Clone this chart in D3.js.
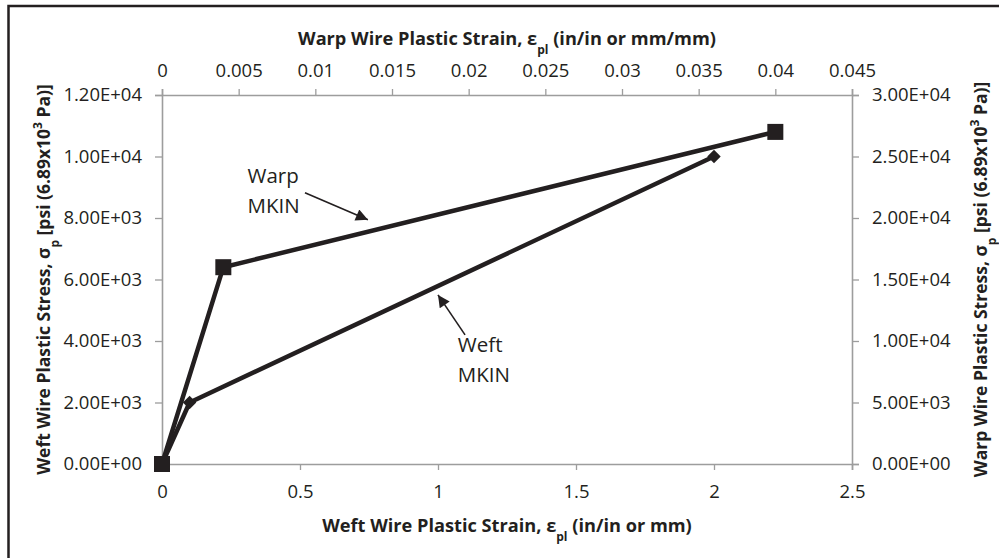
<!DOCTYPE html>
<html>
<head>
<meta charset="utf-8">
<script src="https://cdn.jsdelivr.net/npm/d3@7"></script>
<style>
  body { margin: 0; background: #fff; }
  svg text { font-family: "Open Sans", sans-serif; fill: #231f20; }
</style>
</head>
<body>
<svg id="chart" width="999" height="558"></svg>
<script>
// weft series (bottom x / left y)
const weftStrain = [0, 0.1, 2.0];
const weftStress = [0, 2000, 10000];
// warp series (top x / right y)
const warpStrain = [0, 0.004, 0.04];
const warpStress = [0, 16000, 27000];

// tick labels
const bottomTicks = [0, 0.5, 1, 1.5, 2, 2.5];
const topTicks = [0, 0.005, 0.01, 0.015, 0.02, 0.025, 0.03, 0.035, 0.04, 0.045];
const leftTicks = [0, 2000, 4000, 6000, 8000, 10000, 12000];
const rightTicks = [0, 5000, 10000, 15000, 20000, 25000, 30000];

// annotations, placed in weft-axis data units
const annoLabels = [["Warp", "MKIN"], ["Weft", "MKIN"]];
const annoText = [[0.31, 9130], [1.072, 3640]];
const annoTail = [[0.518, 8820], [1.098, 4200]];
const annoTip = [[0.746, 7940], [1.0, 5500]];

const svg = d3.select('#chart');
const margin = { top: 95, right: 147, bottom: 94, left: 162 };
const width = 999 - margin.left - margin.right;   // 690
const height = 558 - margin.top - margin.bottom;  // 369
const ink = '#231f20';
const axisGrey = '#9d9d9d';

// outer frame (runs off the right/bottom edge like the original)
svg.append('rect')
    .attr('x', 8.5).attr('y', 6)
    .attr('width', 1000).attr('height', 570)
    .attr('fill', 'none')
    .attr('stroke', ink)
    .attr('stroke-width', 2.5);

const xBottom = d3.scaleLinear().domain([0, 2.5]).range([0, width]);
const xTop = d3.scaleLinear().domain([0, 0.045]).range([0, width]);
const yLeft = d3.scaleLinear().domain([0, 12000]).range([height, 0]);
const yRight = d3.scaleLinear().domain([0, 30000]).range([height, 0]);

function sci(v) {
    if (v === 0) return '0.00E+00';
    const e = Math.floor(Math.log10(Math.abs(v)));
    const m = v / Math.pow(10, e);
    return m.toFixed(2) + 'E' + (e < 0 ? '-' : '+') + String(Math.abs(e)).padStart(2, '0');
}

const g = svg.append('g')
    .attr('transform', `translate(${margin.left},${margin.top})`);

function styleAxis(sel) {
    sel.select('.domain').attr('stroke', axisGrey).attr('stroke-width', 1.6);
    sel.selectAll('.tick line').attr('stroke', axisGrey).attr('stroke-width', 1.3);
    sel.selectAll('.tick text').attr('fill', ink).style('font-size', '18.5px');
}

// bottom axis
g.append('g')
    .attr('transform', `translate(0,${height})`)
    .call(d3.axisBottom(xBottom).tickValues(bottomTicks).tickFormat(d3.format('')).tickSizeOuter(0).tickSize(6).tickPadding(15))
    .call(styleAxis);

// top axis
g.append('g')
    .call(d3.axisTop(xTop).tickValues(topTicks).tickFormat(d3.format('')).tickSizeOuter(0).tickSize(6).tickPadding(12))
    .call(styleAxis);

// left axis
g.append('g')
    .call(d3.axisLeft(yLeft).tickValues(leftTicks).tickFormat(sci).tickSizeOuter(0).tickSize(7).tickPadding(13))
    .call(styleAxis);

// right axis
g.append('g')
    .attr('transform', `translate(${width},0)`)
    .call(d3.axisRight(yRight).tickValues(rightTicks).tickFormat(sci).tickSizeOuter(0).tickSize(7).tickPadding(13))
    .call(styleAxis);

// series lines
const weftData = weftStrain.map((x, i) => [x, weftStress[i]]);
const warpData = warpStrain.map((x, i) => [x, warpStress[i]]);

const weftLine = d3.line().x(d => xBottom(d[0])).y(d => yLeft(d[1]));
const warpLine = d3.line().x(d => xTop(d[0])).y(d => yRight(d[1]));

g.append('path')
    .datum(weftData)
    .attr('d', weftLine)
    .attr('fill', 'none')
    .attr('stroke', ink)
    .attr('stroke-width', 4.5)
    .attr('stroke-linejoin', 'round');

g.selectAll('.weft-pt')
    .data(weftData)
    .enter()
    .append('path')
    .attr('class', 'weft-pt')
    .attr('d', d3.symbol().type(d3.symbolDiamond2).size(115))
    .attr('transform', d => `translate(${xBottom(d[0])},${yLeft(d[1])})`)
    .attr('fill', ink);

g.append('path')
    .datum(warpData)
    .attr('d', warpLine)
    .attr('fill', 'none')
    .attr('stroke', ink)
    .attr('stroke-width', 4.5)
    .attr('stroke-linejoin', 'round');

g.selectAll('.warp-pt')
    .data(warpData)
    .enter()
    .append('rect')
    .attr('class', 'warp-pt')
    .attr('x', d => xTop(d[0]) - 8)
    .attr('y', d => yRight(d[1]) - 8)
    .attr('width', 16)
    .attr('height', 16)
    .attr('fill', ink);

// annotations
svg.append('defs').append('marker')
    .attr('id', 'arrow')
    .attr('viewBox', '0 0 10 10')
    .attr('refX', 10).attr('refY', 5)
    .attr('markerUnits', 'userSpaceOnUse')
    .attr('markerWidth', 17).attr('markerHeight', 12)
    .attr('orient', 'auto')
    .append('path')
    .attr('d', 'M0,0 L10,5 L0,10 Z')
    .attr('fill', ink);

annoLabels.forEach((lines, i) => {
    g.append('line')
        .attr('x1', xBottom(annoTail[i][0])).attr('y1', yLeft(annoTail[i][1]))
        .attr('x2', xBottom(annoTip[i][0])).attr('y2', yLeft(annoTip[i][1]))
        .attr('stroke', ink)
        .attr('stroke-width', 1.6)
        .attr('marker-end', 'url(#arrow)');

    const t = g.append('text')
        .attr('x', xBottom(annoText[i][0]))
        .attr('y', yLeft(annoText[i][1]))
        .style('font-size', '20.5px');
    lines.forEach((s, j) => {
        t.append('tspan')
            .attr('x', xBottom(annoText[i][0]))
            .attr('dy', j === 0 ? 0 : 30)
            .text(s);
    });
});

// axis titles
function subTitle(sel, parts) {
    parts.forEach(p => {
        const ts = sel.append('tspan').text(p.t);
        if (p.sub) ts.attr('baseline-shift', 'sub').style('font-size', '12px');
        if (p.sup) ts.attr('baseline-shift', 'super').style('font-size', '12px');
    });
}

const titleFont = '18.2px';
const vTitleFont = '17.5px';

svg.append('text')
    .attr('x', margin.left + width / 2)
    .attr('y', 45)
    .attr('text-anchor', 'middle')
    .style('font-weight', 'bold')
    .style('font-size', titleFont)
    .call(subTitle, [{ t: 'Warp Wire Plastic Strain, ε' }, { t: 'pl', sub: true }, { t: ' (in/in or mm/mm)' }]);

svg.append('text')
    .attr('x', margin.left + width / 2)
    .attr('y', 532)
    .attr('text-anchor', 'middle')
    .style('font-weight', 'bold')
    .style('font-size', titleFont)
    .call(subTitle, [{ t: 'Weft Wire Plastic Strain, ε' }, { t: 'pl', sub: true }, { t: ' (in/in or mm)' }]);

svg.append('text')
    .attr('transform', `translate(50,${margin.top + height / 2}) rotate(-90)`)
    .attr('text-anchor', 'middle')
    .style('font-weight', 'bold')
    .style('font-size', vTitleFont)
    .call(subTitle, [{ t: 'Weft Wire Plastic Stress, σ' }, { t: 'p', sub: true }, { t: ' [psi (6.89x10' }, { t: '3', sup: true }, { t: ' Pa)]' }]);

svg.append('text')
    .attr('transform', `translate(987,${margin.top + height / 2}) rotate(-90)`)
    .attr('text-anchor', 'middle')
    .style('font-weight', 'bold')
    .style('font-size', vTitleFont)
    .call(subTitle, [{ t: 'Warp Wire Plastic Stress, σ' }, { t: 'p', sub: true }, { t: ' [psi (6.89x10' }, { t: '3', sup: true }, { t: ' Pa)]' }]);
</script>
</body>
</html>
